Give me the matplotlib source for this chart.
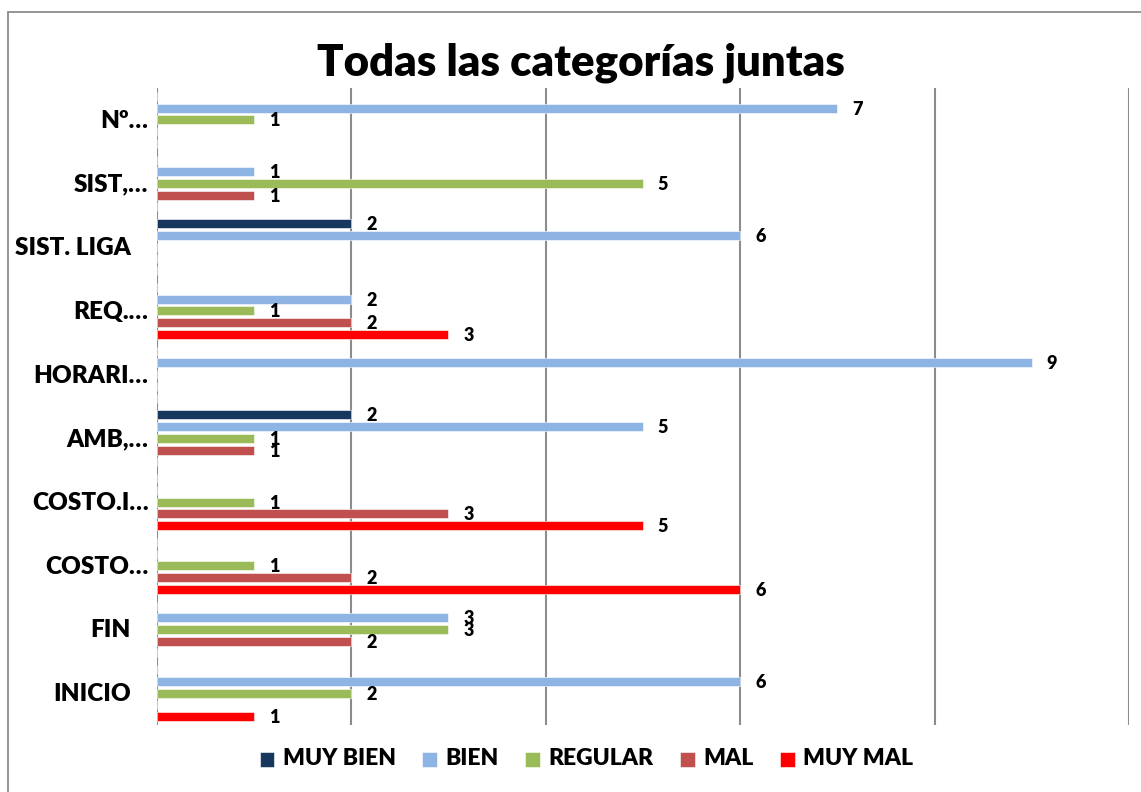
import matplotlib.pyplot as plt
from matplotlib.patches import Rectangle
import numpy as np

# categorias de abajo hacia arriba
categorias = ['INICIO', 'FIN', 'COSTO…', 'COSTO.I…', 'AMB,…', 'HORARI…',
              'REQ.…', 'SIST. LIGA', 'SIST,…', 'Nº…']
series = ['MUY BIEN', 'BIEN', 'REGULAR', 'MAL', 'MUY MAL']
muy_bien = [0, 0, 0, 0, 2, 0, 0, 2, 0, 0]
bien = [6, 3, 0, 0, 5, 9, 2, 6, 1, 7]
regular = [2, 3, 1, 1, 1, 0, 1, 0, 5, 1]
mal = [0, 2, 2, 3, 1, 0, 2, 0, 1, 0]
muy_mal = [1, 0, 6, 5, 0, 0, 3, 0, 0, 0]
colores = ['#17375E', '#8EB4E3', '#9BBB59', '#C0504D', '#FF0000']

plt.rcParams['font.family'] = ['Lato', 'DejaVu Sans']
plt.rcParams['font.weight'] = 'bold'

fig = plt.figure(figsize=(11.41, 7.92), dpi=100)
ax = fig.add_axes([0.1372, 0.0846, 0.8523, 0.8043])

# borde del grafico
fig.patches.append(Rectangle((8 / 1141, -0.2), 1.2, 1.2 - 12 / 792,
                             transform=fig.transFigure, fill=False,
                             edgecolor='#8C8C8C', lw=1.3))

y = np.arange(len(categorias))
paso = 0.1837
alto = 0.14
datos = [muy_bien, bien, regular, mal, muy_mal]
for j, (nombre, valores) in enumerate(zip(series, datos)):
    pos = y + (2 - j) * paso
    ax.barh(pos, valores, height=alto, color=colores[j], label=nombre,
            edgecolor='white', linewidth=0.4, zorder=3)
    for p, v in zip(pos, valores):
        if v > 0:
            ax.annotate(str(v), (v, p), xytext=(15, -1), textcoords='offset pixels',
                        ha='left', va='center', fontsize=13, fontweight='heavy')

ax.set_xlim(0, 10)
ax.set_ylim(-0.5, len(categorias) - 0.5)
ax.set_xticks([0, 2, 4, 6, 8, 10])
ax.set_xticklabels([])
ax.set_yticks([])
ax.tick_params(length=0)
ax.grid(axis='x', color='#8C8C8C', lw=1.5, zorder=0)
for s in ax.spines.values():
    s.set_visible(False)

for yi, cat in zip(y, categorias):
    dx = -8 if '…' in cat else -26
    ax.annotate(cat, (0, yi), xytext=(dx, -1), textcoords='offset pixels',
                ha='right', va='center', fontsize=17.5, fontweight='heavy')

fig.text(0.509, 0.921, 'Todas las categorías juntas', ha='center', va='center',
         fontsize=31.5, fontweight='heavy')

leg = fig.legend(loc='center', bbox_to_anchor=(0.514, 0.042), ncol=5, frameon=False,
                 handlelength=0.62, handleheight=0.62, handletextpad=0.4,
                 columnspacing=1.15, prop={'weight': 'heavy', 'size': 16.5})
for h in leg.legend_handles:
    h.set_height(10.5)
    h.set_width(10.5)
    h.set_y(h.get_y() - 1.5)

fig.savefig('out.png', dpi=100)
